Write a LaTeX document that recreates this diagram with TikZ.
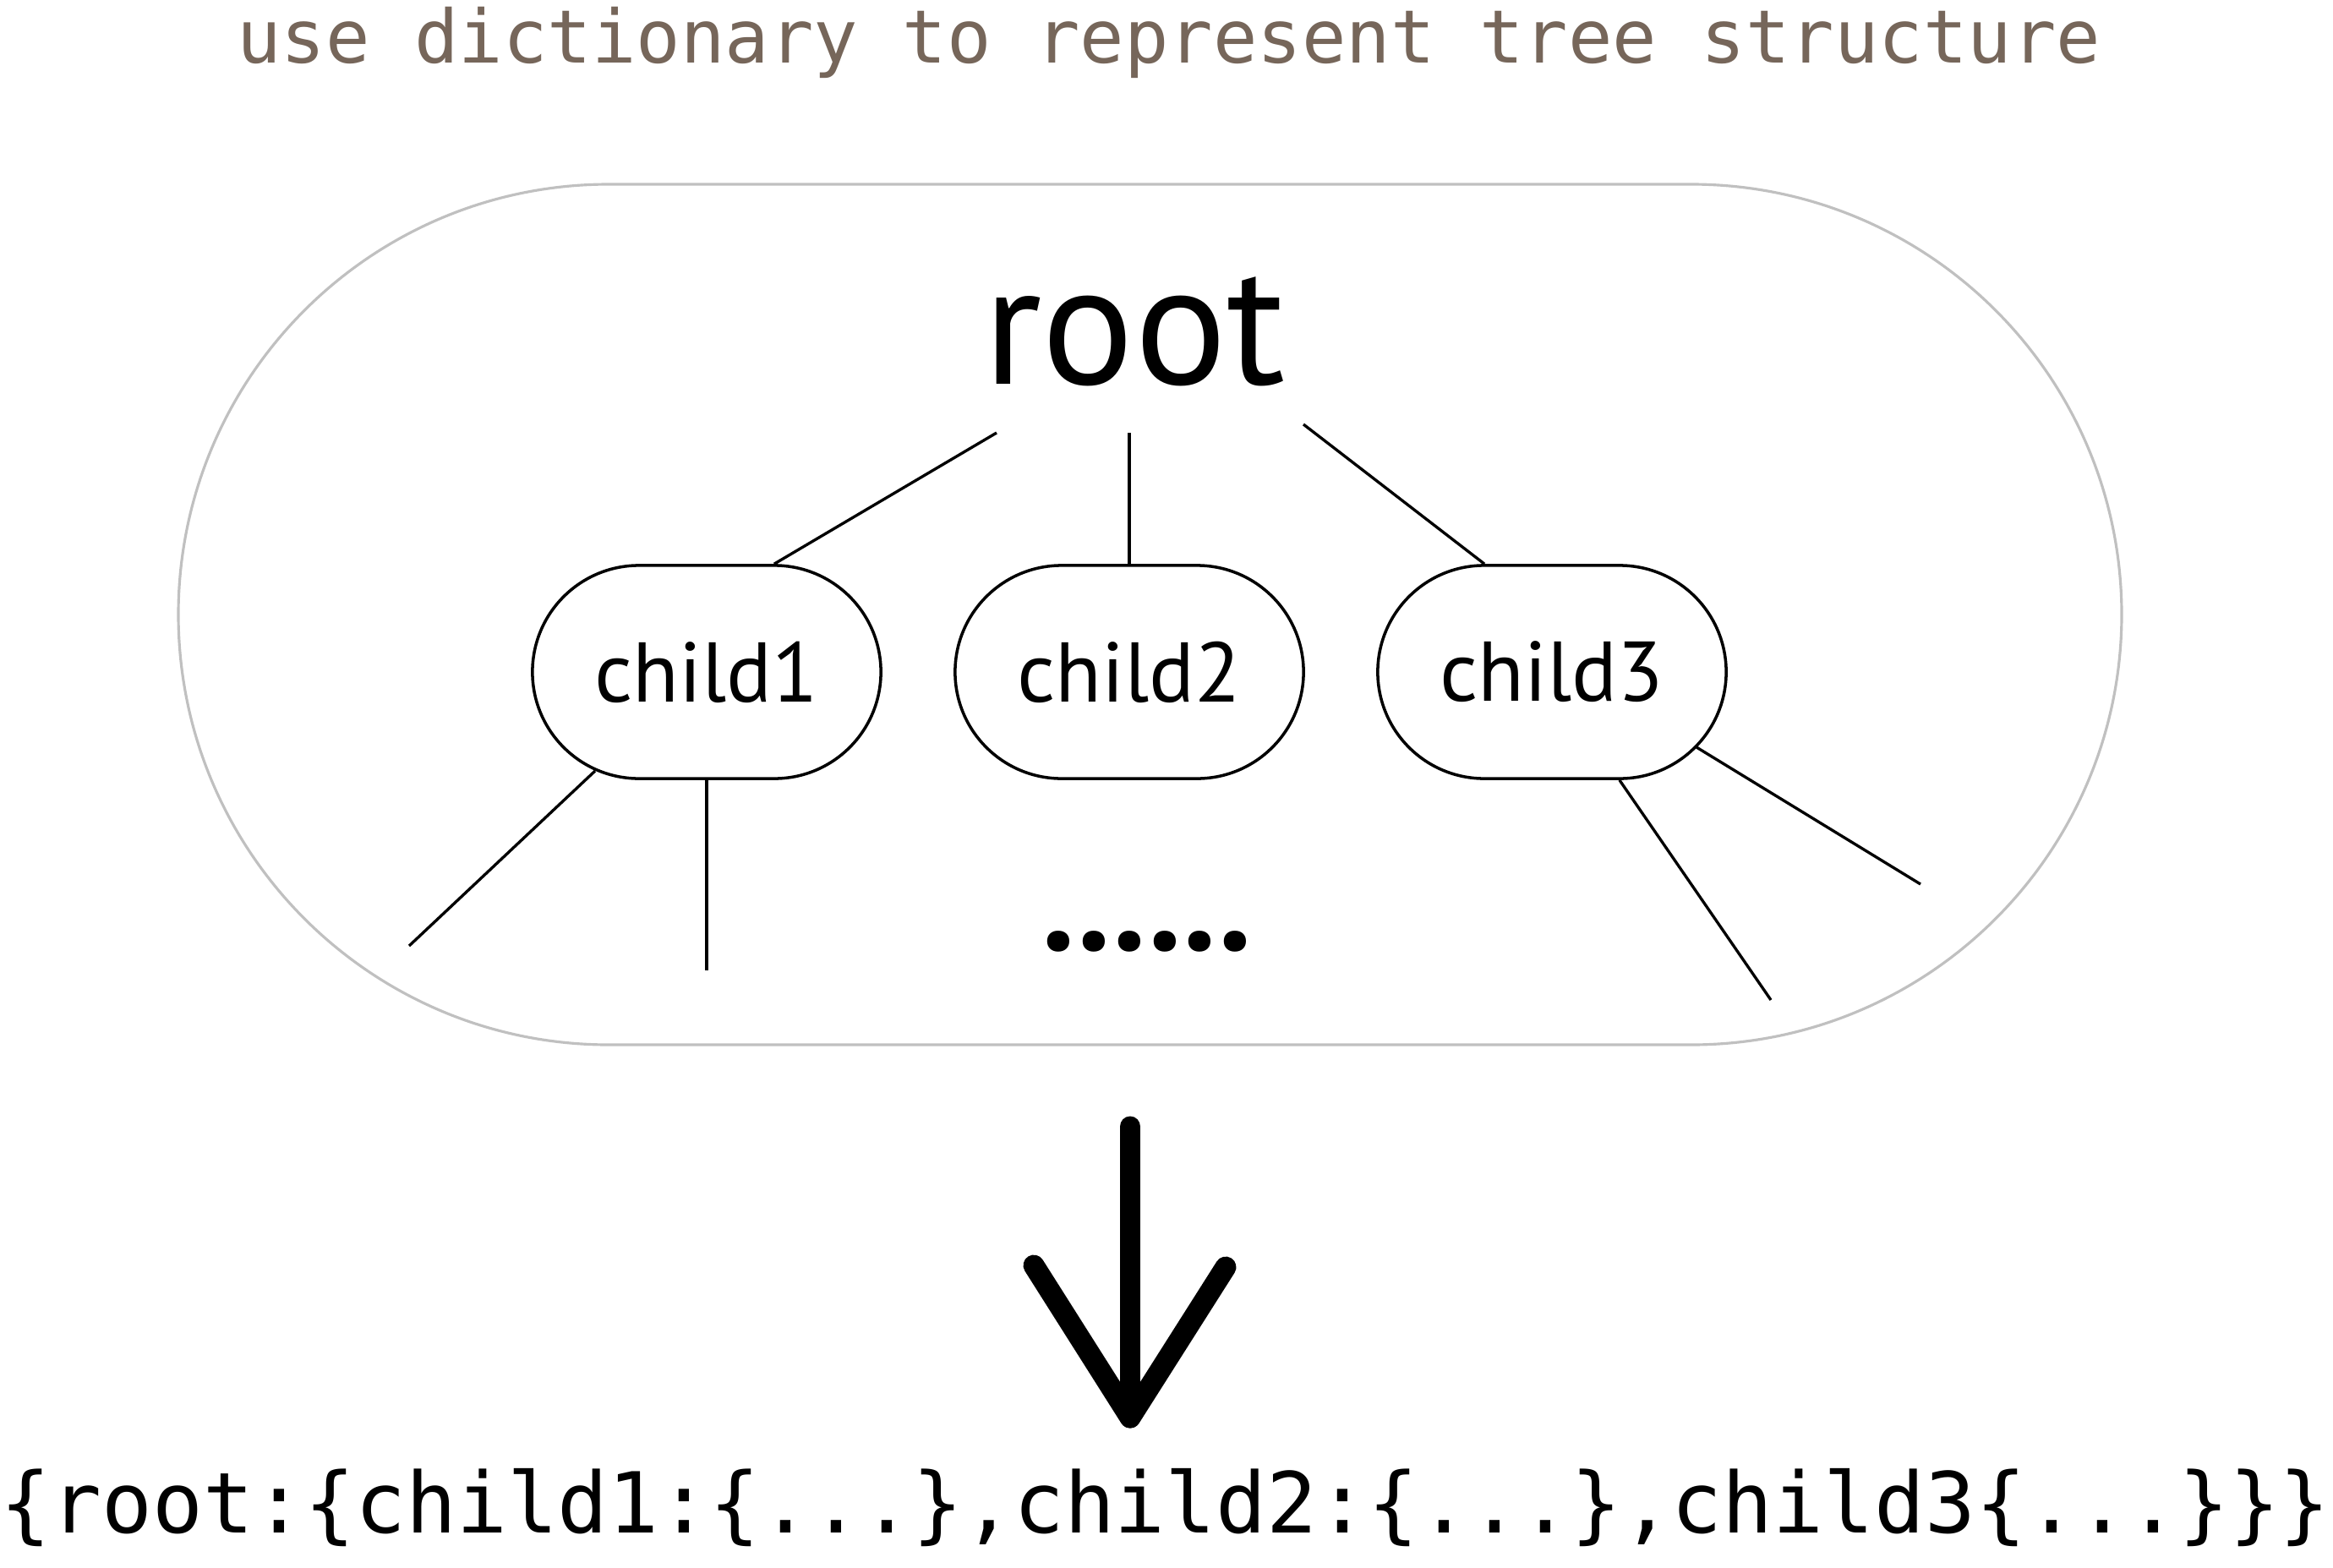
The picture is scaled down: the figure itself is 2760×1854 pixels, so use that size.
\documentclass[tikz,border=0pt]{standalone}
\usepackage{fontspec}
\setmainfont{PT Sans}
\newfontfamily\monofont{DejaVu Sans Mono}
\definecolor{titlecol}{RGB}{118,102,90}
\definecolor{outercol}{RGB}{192,192,192}
\begin{document}
\begin{tikzpicture}[x=0.01cm,y=-0.01cm,
  childbox/.style={draw=black, line width=1pt, minimum width=4.12cm, minimum height=2.52cm, rounded corners=1.26cm, inner sep=0pt, font=\fontsize{28.5}{34}\selectfont},
  edge/.style={draw=black, line width=0.95pt},
  bigarrow/.style={draw=black, line width=7.1pt, line cap=round, line join=round}]
\useasboundingbox (0,0) rectangle (2760,1854);
\node[anchor=base, text=titlecol, font=\monofont\fontsize{24.8}{28}\selectfont] (title) at (1383,74) {use dictionary to represent tree structure};
\draw[outercol, line width=0.9pt, rounded corners=5.09cm] (211,218) rectangle (2510,1236);
\node[anchor=base, font=\fontsize{58}{66}\selectfont] (root) at (1342,454) {root};
\node[childbox] (c1) at (836,795) {child1};
\node[childbox] (c2) at (1336,795) {child2};
\node[childbox] (c3) at (1836,795) {child3};
\coordinate (r1) at (1179,512);
\coordinate (r2) at (1336,512);
\coordinate (r3) at (1542,502);
\draw[edge] (r1) -- (c1.58);
\draw[edge] (r2) -- (c2.north);
\draw[edge] (r3) -- (c3.122);
\coordinate (c1bl) at (704,912);
\coordinate (e1) at (484,1119);
\coordinate (e2) at (836,1148);
\coordinate (c3br) at (2007,884);
\coordinate (e3) at (2095,1183);
\coordinate (e4) at (2272,1046);
\draw[edge] (c1bl) -- (e1);
\draw[edge] (c1.south) -- (e2);
\draw[edge] (c3.-58) -- (e3);
\draw[edge] (c3br) -- (e4);
\node[anchor=base, font=\bfseries\fontsize{46}{56}\selectfont] (dots) at (1357,1124) {......};
\coordinate (atop) at (1337,1333);
\coordinate (atip) at (1337,1677);
\coordinate (awl) at (1223,1497);
\coordinate (awr) at (1450,1499);
\draw[bigarrow] (atop) -- (atip);
\draw[bigarrow] (awl) -- (atip) -- (awr);
\node[anchor=base, font=\monofont\fontsize{28.3}{32}\selectfont] (dict) at (1379,1813) {\{root:\{child1:\{...\},child2:\{...\},child3\{...\}\}\}};
\end{tikzpicture}
\end{document}
